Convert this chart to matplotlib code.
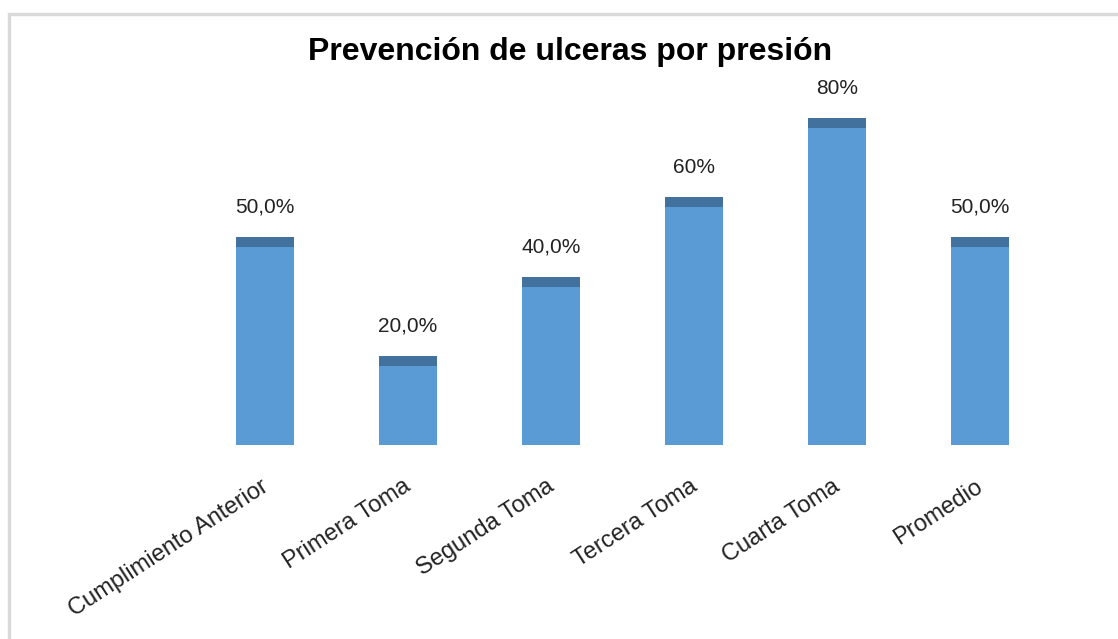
import matplotlib
matplotlib.use("Agg")
import matplotlib.pyplot as plt
from matplotlib.patches import Rectangle
from matplotlib.transforms import ScaledTranslation

categories = ["Cumplimiento Anterior", "Primera Toma", "Segunda Toma",
              "Tercera Toma", "Cuarta Toma", "Promedio"]
values = [50.0, 20.0, 40.0, 60.0, 80.0, 50.0]
labels = ["50,0%", "20,0%", "40,0%", "60%", "80%", "50,0%"]

plt.rcParams['font.family'] = ['Liberation Sans', 'DejaVu Sans']

fig = plt.figure(figsize=(11.18, 6.39), dpi=100)
fig.patch.set_facecolor('white')

# outer light border
fig.patches.append(Rectangle((9/1118, -0.1), 1.2, 1 - 14/639 + 0.1,
                             transform=fig.transFigure, fill=False,
                             edgecolor='#d9d9d9', linewidth=2.5))

ax = fig.add_axes([193.5/1118, (639-445)/639, 858/1118, 396/639])
x = list(range(len(categories)))
ax.bar(x, values, width=0.4, color='#5B9BD5', zorder=2)
ax.bar(x, [2.5]*len(values), bottom=values, width=0.4, color='#41719C', zorder=2)
for xi, v, lab in zip(x, values, labels):
    ax.text(xi, v + 10, lab, ha='center', va='center', fontsize=15, color='#222222')

ax.set_xlim(-0.5, 5.5)
ax.set_ylim(0, 100)
ax.set_yticks([])
ax.set_xticks(x)
ax.set_xticklabels(categories, rotation=33, ha='right', rotation_mode='anchor',
                   fontsize=17, color='#222222')
ax.tick_params(axis='x', length=0, pad=14)
off = ScaledTranslation(-5/100, -11/100, fig.dpi_scale_trans)
for t in ax.get_xticklabels():
    t.set_transform(t.get_transform() + off)
for s in ax.spines.values():
    s.set_visible(False)

fig.text(570/1118, 1 - 52/639, "Prevención de ulceras por presión",
         ha='center', va='center', fontsize=23, fontweight='bold', color='black')

fig.savefig("out.png", dpi=100)
